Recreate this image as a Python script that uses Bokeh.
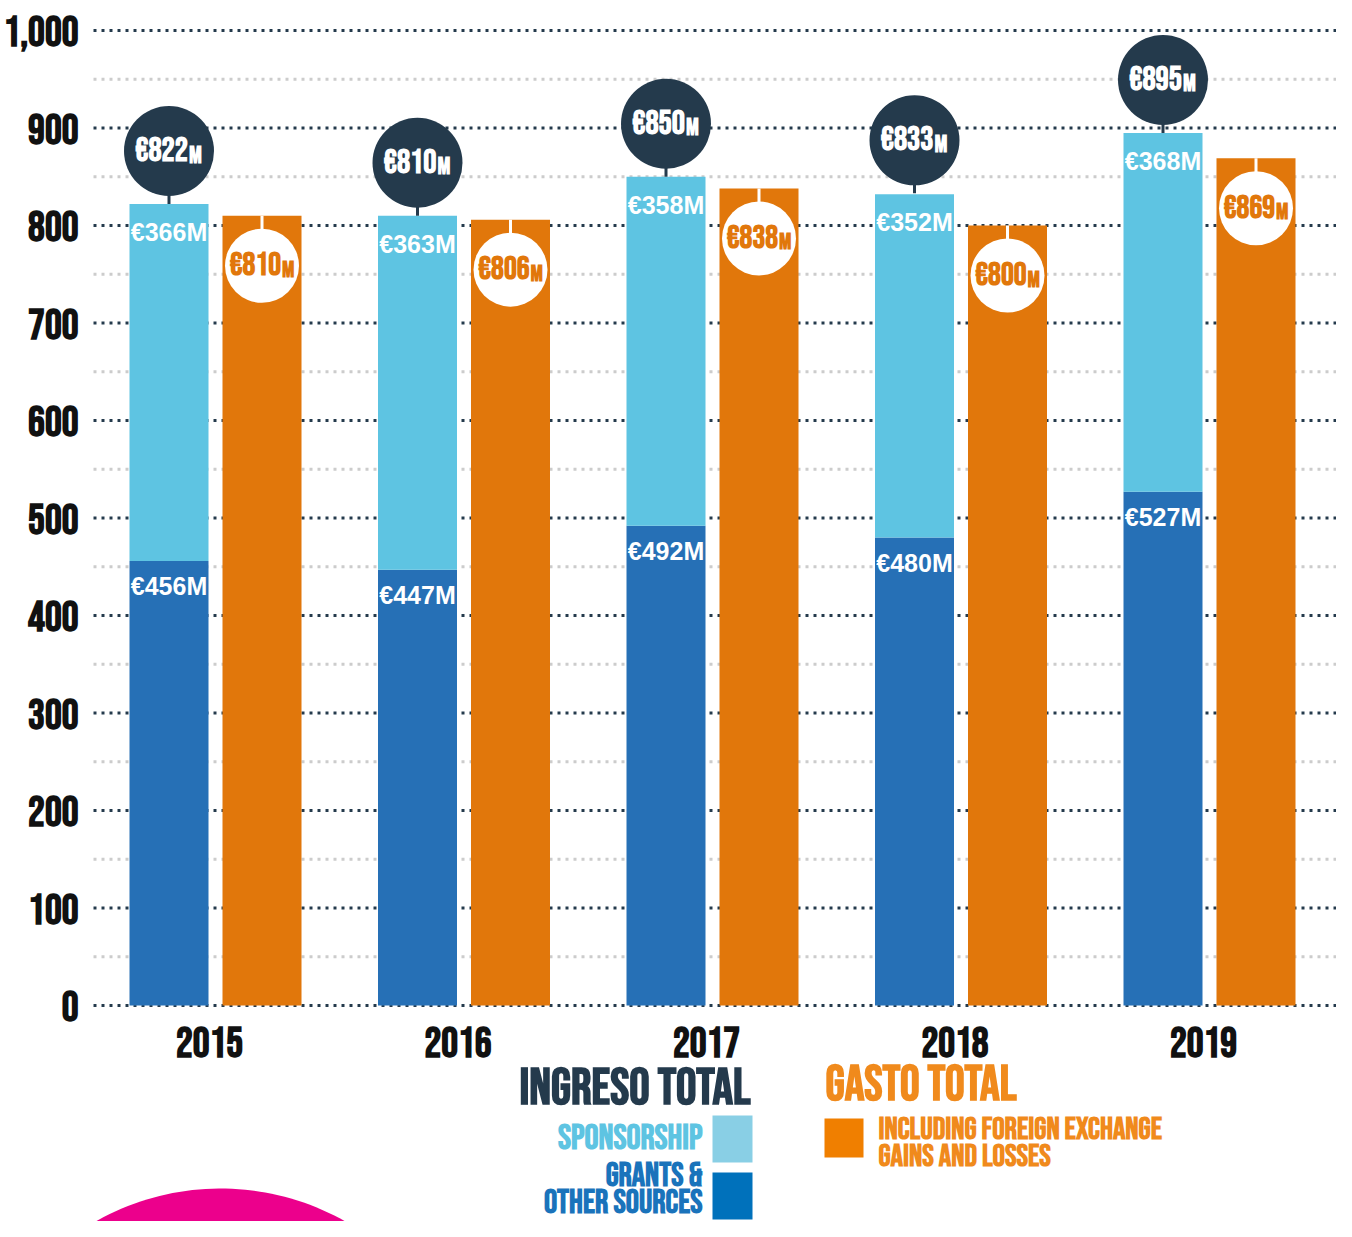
import numpy as np
from bokeh.plotting import figure
from bokeh.models import Range1d, ColumnDataSource
from bokeh.core.properties import value
from bokeh.embed import file_html
from bokeh.resources import INLINE

# ---------------- data ----------------
years = ["2015", "2016", "2017", "2018", "2019"]
grants = [456, 447, 492, 480, 527]          # grants & other sources
sponsorship = [366, 363, 358, 352, 368]     # sponsorship
income_total = [822, 810, 850, 833, 895]    # ingreso total
expenses = [810, 806, 838, 800, 869]        # gasto total
y_ticks = [0, 100, 200, 300, 400, 500, 600, 700, 800, 900, 1000]
y_tick_labels = ["0", "100", "200", "300", "400", "500", "600", "700", "800", "900", "1,000"]
minor_ticks = [50, 150, 250, 350, 450, 550, 650, 750, 850, 950]

# ---------------- layout helpers (pixel positions) ----------------
W, H = 1336, 1221
GROUP_PX = 248.5          # px between year groups
X0_PX = 215.0             # px of first group centre
Y_PX = 0.975              # px per unit on value axis
Y0_PX = 1005.0            # px of value 0 (from top)
LEG = -16                 # vertical shift of the legend block

def dx(px):
    return px / GROUP_PX

def dy(px):
    return px / Y_PX

def fx(px):
    return (px - X0_PX) / GROUP_PX

def fy(py):
    return (Y0_PX - py) / Y_PX

BEBAS = value("Bebas Neue")
ARIAL = value("Liberation Sans")

DARK = "#243a4c"
LIGHT_BLUE = "#5ec4e2"
BLUE = "#2670b6"
ORANGE = "#e1770b"

p = figure(width=W, height=H, output_backend="svg", toolbar_location=None,
           x_range=Range1d(fx(0), fx(W)), y_range=Range1d(fy(H), fy(0)),
           x_axis_location=None, y_axis_location=None, min_border=0)
p.grid.visible = False
p.outline_line_color = None
p.background_fill_color = "white"
p.border_fill_color = "white"


def btext(x, y, text, size, color, align="left", xo=0, yo=0, source=None):
    kw = dict(text_font=BEBAS, text_font_style="bold", text_font_size="%dpx" % size,
              text_align=align, text_baseline="alphabetic", text_color=color,
              x_offset=xo, y_offset=yo)
    if source is not None:
        return p.text(x=x, y=y, text=text, source=source, **kw)
    return p.text(x=x, y=y, text=text, **kw)


idx = list(range(len(years)))
off = dx(46.5)
bw = dx(79)

# decorative pink circle (partly below the page)
t = np.linspace(0, 2 * np.pi, 240)
p.patch(x=fx(220) + dx(253) * np.cos(t), y=fy(1441) + dy(253) * np.sin(t),
        fill_color="#ec008c", line_color=None)

# gridlines
p.segment(x0=[fx(93)] * len(minor_ticks), x1=[fx(W)] * len(minor_ticks), y0=minor_ticks, y1=minor_ticks,
          line_color="#cccccc", line_width=3, line_dash="3 5")
p.segment(x0=[fx(93)] * len(y_ticks), x1=[fx(W)] * len(y_ticks), y0=y_ticks, y1=y_ticks,
          line_color=DARK, line_width=3, line_dash="3 5")

# y tick labels
btext([fx(78)] * len(y_ticks), y_ticks, y_tick_labels, 42, "#111111", align="right")

src = ColumnDataSource(dict(
    xb=[i - off for i in idx],
    xo=[i + off for i in idx],
    xy=idx,
    grants=grants,
    spons_top=[g + s for g, s in zip(grants, sponsorship)],
    total=income_total,
    expenses=expenses,
    g_lab=["€%dM" % v for v in grants],
    s_lab=["€%dM" % v for v in sponsorship],
    t_num=["€%d" % v for v in income_total],
    e_num=["€%d" % v for v in expenses],
    m=["M"] * len(years),
    t_bub=[v + dy(53) for v in income_total],
    e_bub=[v - dy(50) for v in expenses],
    yy=[fy(1041)] * len(years),
    years=years,
))

# bars
p.vbar(x="xb", bottom=0, top="grants", width=bw, source=src, fill_color=BLUE, line_color=None)
p.vbar(x="xb", bottom="grants", top="spons_top", width=bw, source=src, fill_color=LIGHT_BLUE, line_color=None)
p.vbar(x="xo", bottom=0, top="expenses", width=bw, source=src, fill_color=ORANGE, line_color=None)

# bar labels
p.text(x="xb", y="spons_top", text="s_lab", source=src, text_font=ARIAL, text_font_style="bold",
       text_font_size="25px", text_align="center", text_baseline="middle", y_offset=28, text_color="white")
p.text(x="xb", y="grants", text="g_lab", source=src, text_font=ARIAL, text_font_style="bold",
       text_font_size="25px", text_align="center", text_baseline="middle", y_offset=25, text_color="white")

# total income bubbles
p.segment(x0="xb", x1="xb", y0="total", y1="t_bub", source=src, line_color=DARK, line_width=3)
p.scatter(x="xb", y="t_bub", size=90, source=src, marker="circle", fill_color=DARK, line_color=None)
btext("xb", "t_bub", "t_num", 33, "white", align="right", xo=19, source=src)
btext("xb", "t_bub", "m", 24, "white", align="left", xo=20, yo=4, source=src)

# expense bubbles
p.segment(x0="xo", x1="xo", y0="expenses", y1="e_bub", source=src, line_color="white", line_width=3)
p.scatter(x="xo", y="e_bub", size=74, source=src, marker="circle", fill_color="white", line_color=None)
btext("xo", "e_bub", "e_num", 32, ORANGE, align="right", xo=19, source=src)
btext("xo", "e_bub", "m", 23, ORANGE, align="left", xo=20, yo=4, source=src)

# year labels
btext("xy", "yy", "years", 42, "#111111", align="center", xo=-6, source=src)

# legend
btext([fx(750)], [fy(1103.5 + LEG)], ["INGRESO TOTAL"], 51, DARK, align="right")
p.quad(left=[fx(712)], right=[fx(752)], top=[fy(1131 + LEG)], bottom=[fy(1178 + LEG)],
       fill_color="#89cfe5", line_color=None)
btext([fx(702)], [fy(1153.5 + LEG)], ["SPONSORSHIP"], 35, LIGHT_BLUE, align="right")
p.quad(left=[fx(712)], right=[fx(752)], top=[fy(1188 + LEG)], bottom=[fy(1235 + LEG)],
       fill_color="#0071bb", line_color=None)
btext([fx(702), fx(702)], [fy(1191 + LEG), fy(1218 + LEG)], ["GRANTS &", "OTHER SOURCES"], 33, "#1a73bb",
      align="right")

btext([fx(825)], [fy(1100.5 + LEG)], ["GASTO TOTAL"], 49, "#f08a1c", align="left")
p.quad(left=[fx(824)], right=[fx(863)], top=[fy(1134 + LEG)], bottom=[fy(1173 + LEG)],
       fill_color="#f07f00", line_color=None)
btext([fx(878), fx(878)], [fy(1145 + LEG), fy(1172 + LEG)], ["INCLUDING FOREIGN EXCHANGE", "GAINS AND LOSSES"],
      31, "#f08a1c", align="left")

open("out.html", "w").write(file_html(p, INLINE))
